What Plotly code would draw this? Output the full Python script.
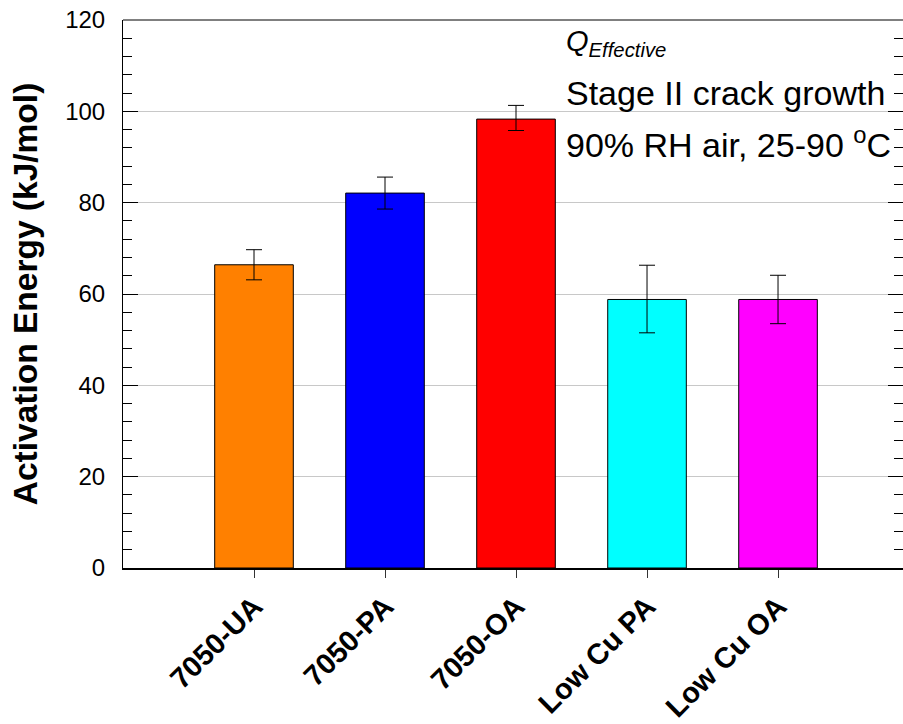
import plotly.graph_objects as go

categories = ["7050-UA", "7050-PA", "7050-OA", "Low Cu PA", "Low Cu OA"]
energy = [66.4, 82.1, 98.3, 58.8, 58.8]
err_plus = [3.3, 3.5, 3.0, 7.5, 5.3]
err_minus = [3.3, 3.5, 2.5, 7.3, 5.3]
bar_colors = ["#FF8000", "#0000FF", "#FF0000", "#00FFFF", "#FF00FF"]
y_ticks = [0, 20, 40, 60, 80, 100, 120]

FONT = "Liberation Sans, Arial, sans-serif"

fig = go.Figure()
fig.add_trace(go.Bar(
    x=categories,
    y=energy,
    width=0.6,
    marker=dict(color=bar_colors, line=dict(color="black", width=1)),
    error_y=dict(type="data", array=err_plus, arrayminus=err_minus,
                 symmetric=False, color="black", thickness=1, width=8),
    showlegend=False,
))

fig.update_layout(
    width=903, height=724,
    margin=dict(l=123, r=0, t=20, b=156),
    plot_bgcolor="white", paper_bgcolor="white",
    font=dict(family=FONT, color="black"),
    bargap=0.4,
    xaxis=dict(
        type="category",
        range=[-1, 4.954],
        showline=True, linecolor="black", linewidth=2,
        ticks="outside", ticklen=8, tickcolor="#333333", tickwidth=1,
        tickangle=-45,
        tickvals=categories,
        ticktext=categories,
        tickfont=dict(size=29, family=FONT, color="black", weight="bold"),
        showgrid=False, zeroline=False,
    ),
    yaxis=dict(
        range=[0, 120],
        tickvals=y_ticks,
        showline=True, linecolor="black", linewidth=1, mirror="ticks",
        ticks="inside", ticklen=15, tickcolor="black", tickwidth=1,
        ticklabelstandoff=12,
        tickfont=dict(size=24, family=FONT, color="black"),
        minor=dict(dtick=4, ticks="inside", ticklen=9, tickcolor="black", tickwidth=1, showgrid=False),
        showgrid=True, gridcolor="#c8c8c8", gridwidth=1,
        zeroline=False,
        title=dict(text="Activation Energy (kJ/mol)",
                   font=dict(size=33.5, family=FONT, color="black", weight="bold"), standoff=17),
    ),
    shapes=[dict(type="line", xref="paper", yref="paper", x0=0, x1=1, y0=1, y1=1,
                 line=dict(color="black", width=1))],
)

ann_x = (564 - 123) / 780
fig.add_annotation(xref="paper", yref="paper", x=ann_x, y=0.995, xanchor="left", yanchor="top",
                   text="Q<sub>Effective</sub>", showarrow=False,
                   font=dict(size=29, family=FONT, color="black", style="italic"))
fig.add_annotation(xref="paper", yref="paper", x=ann_x, y=0.867, xanchor="left", yanchor="middle",
                   text="Stage II crack growth", showarrow=False,
                   font=dict(size=34, family=FONT, color="black"))
fig.add_annotation(xref="paper", yref="paper", x=ann_x, y=0.777, xanchor="left", yanchor="middle",
                   text="90% RH air, 25-90 <sup>o</sup>C", showarrow=False,
                   font=dict(size=34, family=FONT, color="black"))

fig.write_html("out.html")
